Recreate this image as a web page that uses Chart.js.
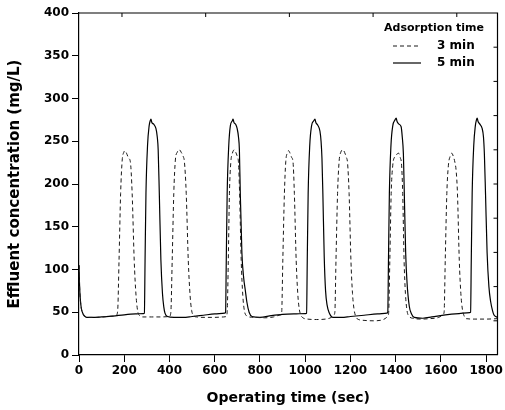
<!DOCTYPE html>
<html>
<head>
<meta charset="utf-8">
<script src="https://cdn.jsdelivr.net/npm/chart.js@4/dist/chart.umd.min.js"></script>
<style>
  html, body { margin: 0; padding: 0; background: #fff; }
  #wrap { width: 505px; height: 410px; }
</style>
</head>
<body>
<div id="wrap"><canvas id="chart" width="505" height="410"></canvas></div>
<script>
// values
const xTicks = [0, 200, 400, 600, 800, 1000, 1200, 1400, 1600, 1800]
const yTicks = [0, 50, 100, 150, 200, 250, 300, 350, 400]
const legendTitle = 'Adsorption time'
const seriesLabels = ['3 min', '5 min']

const time3 = [
  0, 2, 5, 10, 18, 30, 40, 70, 100, 150, 165,
  171, 177, 184, 191, 198, 204, 210, 220, 227, 235, 244, 252, 259, 268, 280,
  320, 360, 400,
  406, 412, 419, 426, 434, 444, 452, 461, 466, 474, 483, 491, 498, 507, 520,
  560, 600, 640, 651,
  655, 660, 665, 671, 678, 687, 693, 700, 705, 710, 717, 724, 731, 740, 752,
  780, 820, 860, 885, 892,
  896, 901, 908, 914, 920, 926, 933, 940, 946, 952, 960, 967, 973, 980, 990,
  1010, 1050, 1090, 1115, 1127,
  1131, 1136, 1143, 1150, 1157, 1167, 1174, 1182, 1187, 1194, 1202, 1209, 1215, 1222, 1232,
  1260, 1300, 1340, 1360, 1366,
  1369, 1374, 1380, 1387, 1396, 1406, 1413, 1420, 1426, 1431, 1437, 1443, 1450, 1460, 1475,
  1510, 1550, 1590, 1605, 1611,
  1614, 1619, 1626, 1633, 1640, 1648, 1655, 1662, 1667, 1673, 1681, 1688, 1694, 1702, 1712,
  1750, 1800, 1850
]
const conc3 = [
  105, 85, 68, 55, 48, 44.5, 44, 44, 44.5, 45.5, 46.5,
  52, 111, 189, 228, 237, 239, 236, 230, 226, 189, 111, 70, 52, 46, 44.5,
  44.5, 44.5, 45,
  50, 111, 189, 228, 237, 240, 237, 232, 226, 189, 111, 70, 52, 46, 44.5,
  44, 44, 44.5, 45,
  50, 111, 189, 225, 236, 240, 237, 232, 225, 189, 111, 70, 52, 46, 44.5,
  44, 43.5, 44.5, 46.5, 47,
  50, 111, 189, 226, 236, 239, 236, 231, 226, 189, 111, 72, 55, 47, 43.5,
  42, 41.5, 42, 44, 47,
  50, 111, 189, 227, 237, 240, 237, 231, 225, 189, 111, 72, 55, 46, 42,
  40.5, 40, 41, 44, 46,
  50, 111, 189, 222, 232, 235, 236, 231, 222, 189, 111, 72, 52, 45, 43,
  42, 42.5, 44, 46.5, 48,
  50, 111, 189, 222, 232, 236, 232, 225, 216, 189, 111, 72, 55, 46, 42.5,
  42, 42, 42.5
]

const time5 = [
  0, 2, 5, 10, 18, 30, 40, 70, 100, 150, 200, 250, 285,
  289, 292, 296, 303, 310, 315, 318, 322, 330, 340, 346, 350, 355, 362, 369, 375, 380, 391,
  420, 460, 500, 550, 600, 644,
  648, 651, 655, 662, 669, 678, 681, 685, 692, 699, 705, 709, 713, 720, 728, 735, 742, 752, 765,
  800, 850, 900, 950, 1002,
  1006, 1009, 1013, 1020, 1028, 1038, 1043, 1047, 1055, 1065, 1070, 1074, 1078, 1084, 1090, 1097, 1105, 1123,
  1160, 1200, 1260, 1320, 1361,
  1365, 1368, 1372, 1379, 1387, 1397, 1402, 1406, 1414, 1424, 1429, 1434, 1438, 1444, 1450, 1460, 1470, 1482,
  1520, 1560, 1620, 1680, 1727,
  1731, 1734, 1738, 1745, 1752, 1757, 1760, 1764, 1772, 1782, 1788, 1792, 1797, 1804, 1812, 1820, 1828, 1834, 1842, 1850
]
const conc5 = [
  105, 85, 68, 55, 48, 44.5, 44, 44, 44.5, 45.5, 47, 48, 48.5,
  49, 110, 189, 245, 268, 274, 276, 272, 270, 265, 255, 240, 189, 111, 72, 56, 49, 45,
  44, 44, 45, 46.5, 48, 49,
  50, 110, 189, 245, 268, 274, 276, 272, 270, 265, 255, 240, 189, 120, 90, 76, 62, 50, 45,
  44, 46, 47.5, 48, 48.5,
  49, 110, 189, 245, 268, 274, 276, 272, 269, 262, 250, 230, 189, 115, 75, 58, 50, 44,
  44, 45, 46.5, 48, 49,
  50, 110, 189, 245, 268, 275, 277, 273, 270, 267, 255, 235, 189, 120, 85, 57, 48, 44,
  43, 44.5, 47, 48.5, 49.5,
  50, 110, 189, 245, 268, 275, 277, 273, 270, 265, 255, 235, 189, 120, 80, 62, 52, 47, 45, 44
]

const toPoints = (xs, ys) => xs.map((x, i) => ({ x, y: ys[i] }))

const font = 'DejaVu Sans'
const tickFont = { family: font, size: 12, weight: 'bold' }

// mirrored inner ticks on top/right and the legend box, like the original plot
const framePlugin = {
  id: 'frame',
  afterDraw: chart => {
    const { ctx, chartArea: a, scales } = chart
    ctx.save()
    ctx.strokeStyle = '#000'
    ctx.lineWidth = 1.2
    ctx.beginPath()
    ctx.moveTo(a.left, a.top)
    ctx.lineTo(a.right, a.top)
    ctx.lineTo(a.right, a.bottom)
    ctx.stroke()
    ctx.lineWidth = 1
    ctx.beginPath()
    ;[190, 560, 930, 1300, 1670].forEach(v => {
      const px = scales.x.getPixelForValue(v)
      ctx.moveTo(px, a.top)
      ctx.lineTo(px, a.top + 4)
    })
    ;[40, 80, 120, 160, 200, 240, 280, 320, 360].forEach(v => {
      const py = scales.y.getPixelForValue(v)
      ctx.moveTo(a.right, py)
      ctx.lineTo(a.right - 4, py)
    })
    ctx.stroke()

    // legend
    ctx.fillStyle = '#000'
    ctx.textBaseline = 'middle'
    ctx.textAlign = 'center'
    ctx.font = `bold 11px "${font}"`
    ctx.fillText(legendTitle, 434, 28)
    ctx.textAlign = 'left'
    ctx.font = `bold 12px "${font}"`
    chart.data.datasets.forEach((ds, i) => {
      const y = 46 + i * 17
      ctx.strokeStyle = ds.borderColor
      ctx.lineWidth = ds.borderWidth
      ctx.setLineDash(ds.borderDash || [])
      ctx.beginPath()
      ctx.moveTo(393, y)
      ctx.lineTo(421, y)
      ctx.stroke()
      ctx.setLineDash([])
      ctx.fillText(ds.label, 437, y)
    })
    ctx.restore()
  }
}

new Chart(document.getElementById('chart'), {
  type: 'scatter',
  data: {
    datasets: [
      {
        label: seriesLabels[0],
        data: toPoints(time3, conc3),
        showLine: true,
        borderColor: '#1a1a1a',
        borderWidth: 1,
        borderDash: [4, 3],
        pointRadius: 0,
        cubicInterpolationMode: 'monotone'
      },
      {
        label: seriesLabels[1],
        data: toPoints(time5, conc5),
        showLine: true,
        borderColor: '#000',
        borderWidth: 1.2,
        pointRadius: 0,
        cubicInterpolationMode: 'monotone'
      }
    ]
  },
  options: {
    responsive: false,
    animation: false,
    devicePixelRatio: 1,
    layout: { padding: { left: 0, right: 4, top: 13, bottom: 0 } },
    plugins: { legend: { display: false }, tooltip: { enabled: false } },
    scales: {
      x: {
        type: 'linear',
        min: 0,
        max: 1850,
        afterBuildTicks: scale => { scale.ticks = xTicks.map(value => ({ value })) },
        afterFit: scale => { scale.height = 55 },
        grid: { drawOnChartArea: false, color: '#000', tickLength: 7 },
        border: { color: '#000', width: 1.2 },
        ticks: { color: '#000', padding: 2, maxRotation: 0, font: tickFont, callback: v => String(v) },
        title: {
          display: true,
          text: 'Operating time (sec)',
          color: '#000',
          padding: { top: 0, bottom: 3 },
          font: { family: font, size: 14, weight: 'bold' }
        }
      },
      y: {
        min: 0,
        max: 400,
        afterBuildTicks: scale => { scale.ticks = yTicks.map(value => ({ value })) },
        afterFit: scale => { scale.width = 79 },
        grid: { drawOnChartArea: false, color: '#000', tickLength: 7 },
        border: { color: '#000', width: 1.2 },
        ticks: { color: '#000', padding: 3, font: tickFont, callback: v => String(v) },
        title: {
          display: true,
          text: 'Effluent concentration (mg/L)',
          color: '#000',
          padding: { top: 6, bottom: 0 },
          font: { family: font, size: 15, weight: 'bold' }
        }
      }
    }
  },
  plugins: [framePlugin]
})
</script>
</body>
</html>
